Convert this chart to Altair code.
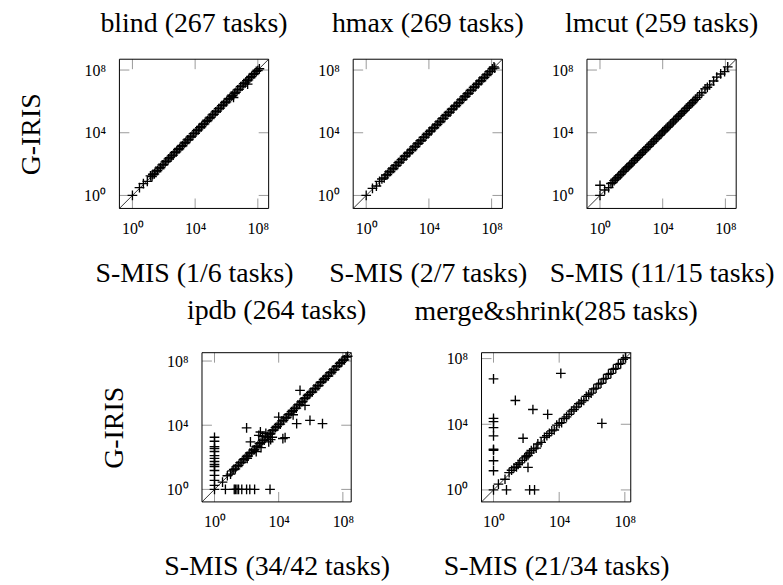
import altair as alt
import pandas as pd

FONT = "Liberation Serif"
BOX = 150
TICK_LEN = 10
TICK_COLOR = "#9a9a9a"
PLUS = "M-1,0L1,0M0,-1L0,1"

# ---- data: log10 of S-MIS (x) and G-IRIS (y) values ----
blind_x = [0, 0.45, 0.7, 0.95, 1.15, 1.25, 1.3, 1.4, 1.5, 1.6, 1.7, 1.8, 1.9, 2.0, 2.1, 2.2,
           2.3, 2.4, 2.5, 2.6, 2.7, 2.8, 2.9, 3.0, 3.1, 3.2, 3.3, 3.4, 3.5, 3.6, 3.7, 3.8, 3.9,
           4.0, 4.1, 4.2, 4.3, 4.4, 4.5, 4.6, 4.7, 4.8, 4.9, 5.0, 5.1, 5.2, 5.3, 5.4, 5.5, 5.6,
           5.7, 5.8, 5.9, 6.0, 6.1, 6.2, 6.3, 6.4, 6.5, 6.6, 6.7, 6.8, 6.9, 7.0, 7.1, 7.2, 7.3,
           7.4, 7.5, 7.6, 7.7, 7.8, 7.9, 8.0, 8.1, 6.45, 7.35]
blind_y = [0, 0.5, 0.75, 0.9, 1.25, 1.2, 1.35, 1.37, 1.55, 1.58, 1.74, 1.77, 1.95, 1.97, 2.14,
           2.18, 2.33, 2.41, 2.52, 2.57, 2.74, 2.78, 2.93, 2.98, 3.13, 3.17, 3.34, 3.38, 3.55,
           3.57, 3.73, 3.78, 3.94, 3.97, 4.14, 4.18, 4.33, 4.38, 4.54, 4.57, 4.73, 4.78, 4.93,
           4.98, 5.14, 5.17, 5.33, 5.38, 5.54, 5.57, 5.73, 5.78, 5.93, 5.97, 6.14, 6.17, 6.33,
           6.38, 6.52, 6.58, 6.73, 6.77, 6.94, 6.97, 7.13, 7.18, 7.33, 7.37, 7.52, 7.58, 7.73,
           7.77, 7.92, 7.97, 8.08, 6.25, 7.1]

hmax_x = [0, 0.4, 0.65, 0.85, 1.0, 1.15, 1.25, 1.35, 1.45, 1.55, 1.65, 1.75, 1.85, 1.95, 2.05,
          2.15, 2.25, 2.35, 2.45, 2.55, 2.65, 2.75, 2.85, 2.95, 3.05, 3.15, 3.25, 3.35, 3.45,
          3.55, 3.65, 3.75, 3.85, 3.95, 4.05, 4.15, 4.25, 4.35, 4.45, 4.55, 4.65, 4.75, 4.85,
          4.95, 5.05, 5.15, 5.25, 5.35, 5.45, 5.55, 5.65, 5.75, 5.85, 5.95, 6.05, 6.15, 6.25,
          6.35, 6.45, 6.55, 6.65, 6.75, 6.85, 6.95, 7.05, 7.15, 7.25, 7.35, 7.45, 7.55, 7.65,
          7.75, 7.85, 7.95, 8.05, 8.15, 8.2]
hmax_y = [0, 0.45, 0.6, 0.9, 1.05, 1.12, 1.3, 1.33, 1.5, 1.53, 1.69, 1.72, 1.9, 1.92, 2.09,
          2.13, 2.29, 2.32, 2.5, 2.52, 2.69, 2.73, 2.89, 2.92, 3.1, 3.12, 3.29, 3.33, 3.49,
          3.52, 3.7, 3.72, 3.89, 3.93, 4.09, 4.12, 4.3, 4.32, 4.49, 4.53, 4.69, 4.72, 4.9,
          4.92, 5.09, 5.13, 5.29, 5.32, 5.5, 5.52, 5.69, 5.73, 5.89, 5.92, 6.1, 6.12, 6.29,
          6.33, 6.49, 6.52, 6.7, 6.72, 6.89, 6.93, 7.09, 7.12, 7.3, 7.32, 7.49, 7.53, 7.69,
          7.72, 7.9, 7.92, 8.08, 8.2, 8.12]

lmcut_x = [0, 0.0, 0.3, 0.55, 0.7, 0.8, 0.9, 1.0, 1.1, 1.2, 1.3, 1.4, 1.5, 1.6, 1.7, 1.8, 1.9,
           2.0, 2.1, 2.2, 2.3, 2.4, 2.5, 2.6, 2.7, 2.8, 2.9, 3.0, 3.1, 3.2, 3.3, 3.4, 3.5, 3.6,
           3.7, 3.8, 3.9, 4.0, 4.1, 4.2, 4.3, 4.4, 4.5, 4.6, 4.7, 4.8, 4.9, 5.0, 5.1, 5.2, 5.3,
           5.4, 5.5, 5.6, 5.7, 5.8, 5.9, 6.0, 6.1, 6.2, 6.35, 6.5, 6.7, 6.85, 7.0, 7.25, 7.45,
           7.7, 7.95, 8.15]
lmcut_y = [0, 0.65, 0.35, 0.5, 0.76, 0.82, 0.95, 1.04, 1.13, 1.25, 1.33, 1.44, 1.54, 1.63,
           1.75, 1.83, 1.94, 2.05, 2.13, 2.24, 2.34, 2.43, 2.55, 2.63, 2.74, 2.84, 2.93, 3.05,
           3.13, 3.24, 3.34, 3.43, 3.55, 3.63, 3.74, 3.84, 3.93, 4.05, 4.13, 4.24, 4.34, 4.43,
           4.55, 4.63, 4.74, 4.84, 4.93, 5.05, 5.13, 5.24, 5.34, 5.43, 5.55, 5.63, 5.74, 5.84,
           5.93, 6.05, 6.13, 6.25, 6.4, 6.55, 6.8, 6.9, 7.05, 7.3, 7.55, 7.75, 7.9, 8.2]

ipdb_x = [0, 0.5, 0.8, 1.0, 1.1, 1.2, 1.3, 1.4, 1.5, 1.6, 1.7, 1.8, 1.9, 2.0, 2.1, 2.2, 2.3,
          2.4, 2.5, 2.6, 2.7, 2.8, 2.9, 3.0, 3.1, 3.2, 3.3, 3.4, 3.5, 3.6, 3.7, 3.8, 3.9, 4.0,
          4.1, 4.2, 4.3, 4.4, 4.5, 4.6, 4.7, 4.8, 4.9, 5.0, 5.1, 5.2, 5.3, 5.4, 5.5, 5.6, 5.7,
          5.8, 5.9, 6.0, 6.1, 6.2, 6.3, 6.4, 6.5, 6.6, 6.7, 6.8, 6.9, 7.0, 7.1, 7.2, 7.3, 7.4,
          7.5, 7.6, 7.7, 7.8, 7.9, 8.0, 8.1, 8.2, 8.3,
          2.0, 2.86, 2.76, 2.24, 3.38, 4.0, 4.26, 4.4, 5.12, 5.95, 6.73, 5.33, 5.64, 2.6, 2.9,
          3.6, 3.2, 4.9, 2.04, 3.0, 3.5,
          0, 0, 0, 0, 0, 0, 0, 0, 0, 0, 0, 0, 0, 0,
          0.68, 1.23, 1.3, 1.4, 1.5, 1.7, 2.0, 2.2, 2.5, 3.46]
ipdb_y = [0, 0.45, 0.85, 0.95, 1.15, 1.25, 1.28, 1.45, 1.5, 1.66, 1.68, 1.85, 1.92, 2.05,
          2.08, 2.27, 2.3, 2.45, 2.47, 2.66, 2.7, 2.85, 2.92, 3.05, 3.07, 3.27, 3.3, 3.45,
          3.47, 3.66, 3.7, 3.85, 3.92, 4.05, 4.07, 4.27, 4.3, 4.45, 4.47, 4.66, 4.7, 4.85,
          4.92, 5.05, 5.07, 5.27, 5.3, 5.45, 5.47, 5.66, 5.7, 5.85, 5.92, 6.05, 6.07, 6.27,
          6.3, 6.45, 6.47, 6.66, 6.7, 6.85, 6.92, 7.05, 7.07, 7.27, 7.3, 7.45, 7.47, 7.66,
          7.7, 7.85, 7.92, 8.05, 8.07, 8.25, 8.3,
          3.83, 3.58, 3.37, 2.96, 2.96, 4.5, 3.17, 3.23, 4.1, 4.3, 4.1, 6.17, 5.24, 2.35, 2.6,
          3.25, 3.5, 4.65, 1.93, 3.3, 3.1,
          3.25, 3.0, 2.67, 2.55, 2.36, 2.11, 1.93, 1.74, 1.55, 1.43, 1.18, 0.87, 0.56, 0.25,
          0, 0, 0, 0, 0, 0, 0, 0, 0, 0]

ms_x = [0, 0.3, 0.7, 0.95, 1.1, 1.25, 1.4, 1.5, 1.6, 1.75, 1.9, 2.0, 2.1, 2.2, 2.3, 2.45, 2.6,
        2.7, 2.9, 3.1, 3.25, 3.4, 3.55, 3.7, 3.85, 4.0, 4.15, 4.3, 4.45, 4.6, 4.75, 4.9, 5.05,
        5.2, 5.35, 5.5, 5.65, 5.8, 5.95, 6.1, 6.25, 6.4, 6.55, 6.7, 6.85, 7.0, 7.15, 7.3, 7.45,
        7.6, 7.75, 7.9, 8.05,
        0, 0, 0, 0, 0, 0, 0, 0, 0,
        1.33, 2.4, 1.8, 0.79, 2.2, 2.5, 2.1, 6.6, 4.1, 3.3]
ms_y = [0, 0.35, 0.65, 1.05, 1.2, 1.35, 1.4, 1.55, 1.65, 1.8, 1.95, 2.05, 2.1, 2.25, 2.4, 2.5,
        2.55, 2.8, 2.9, 3.2, 3.3, 3.45, 3.6, 3.65, 3.95, 4.05, 4.1, 4.35, 4.45, 4.6, 4.8, 4.9,
        5.05, 5.25, 5.35, 5.45, 5.7, 5.8, 5.9, 6.15, 6.2, 6.45, 6.5, 6.75, 6.8, 7.05, 7.1,
        7.35, 7.4, 7.65, 7.7, 7.95, 8.05,
        6.77, 4.36, 4.16, 3.8, 3.29, 2.48, 2.42, 1.78, 1.17,
        5.45, 4.9, 3.15, 0, 0, 0, 1.37, 4.05, 7.1, 4.6]

tick_values = [1, 1e4, 1e8]
LABEL = "datum.value < 10 ? '10⁰' : (datum.value < 1e6 ? '10⁴' : '10⁸')"


def panel(xs, ys, lo_exp, hi_exp, title, xtitle, ytitle, title_offset):
    lo, hi = 10 ** lo_exp, 10 ** hi_exp
    sx = alt.Scale(type="log", domain=[lo, hi], nice=False)
    sy = alt.Scale(type="log", domain=[lo, hi], nice=False)
    common = dict(values=tick_values, labelExpr=LABEL, domain=False, ticks=False, tickSize=0,
                  grid=False, labelFont=FONT, labelFontSize=16, labelColor="black",
                  titleFont=FONT, titleFontSize=28, titleFontWeight="normal", titleColor="black")
    xaxis = alt.Axis(labelPadding=12, titleX=BOX / 2, titleY=65, titleBaseline="middle",
                     titleAlign="center", **common)
    if ytitle:
        yaxis = alt.Axis(labelPadding=14, titleX=-88, titleY=BOX / 2, titleAngle=270,
                         titleBaseline="middle", titleAlign="center", **common)
    else:
        yaxis = alt.Axis(labelPadding=14, **common)
    X = alt.X("x:Q", scale=sx, axis=xaxis, title=xtitle)
    Y = alt.Y("y:Q", scale=sy, axis=yaxis, title=ytitle if ytitle else None)

    pts = (alt.Chart(pd.DataFrame({"lx": xs, "ly": ys}))
           .transform_calculate(x="pow(10, datum.lx)", y="pow(10, datum.ly)")
           .mark_point(shape=PLUS, size=95, strokeWidth=1.35, color="black", filled=False,
                       opacity=1)
           .encode(x=X, y=Y))
    diag = (alt.Chart(pd.DataFrame({"x": [lo, hi], "y": [lo, hi]}))
            .mark_line(color="black", strokeWidth=0.8).encode(x=X, y=Y))
    tx = pd.DataFrame({"x": tick_values})
    ty = pd.DataFrame({"y": tick_values})
    tb = alt.Chart(tx).mark_rule(color=TICK_COLOR, strokeWidth=1).encode(
        x=X, y=alt.value(BOX), y2=alt.value(BOX - TICK_LEN))
    tt = alt.Chart(tx).mark_rule(color=TICK_COLOR, strokeWidth=1).encode(
        x=X, y=alt.value(0), y2=alt.value(TICK_LEN))
    tl = alt.Chart(ty).mark_rule(color=TICK_COLOR, strokeWidth=1).encode(
        y=Y, x=alt.value(0), x2=alt.value(TICK_LEN))
    tr = alt.Chart(ty).mark_rule(color=TICK_COLOR, strokeWidth=1).encode(
        y=Y, x=alt.value(BOX), x2=alt.value(BOX - TICK_LEN))
    box = alt.Chart(pd.DataFrame({"a": [0]})).mark_rect(
        fillOpacity=0, stroke="black", strokeWidth=1).encode(
        x=alt.value(0), x2=alt.value(BOX), y=alt.value(0), y2=alt.value(BOX))
    return alt.layer(tb, tt, tl, tr, diag, pts, box).properties(
        width=BOX, height=BOX,
        title=alt.TitleParams(text=title, font=FONT, fontSize=28, fontWeight="normal",
                              color="black", anchor="middle", baseline="alphabetic",
                              offset=title_offset))


p1 = panel(blind_x, blind_y, -0.83, 8.69, "blind (267 tasks)", "S-MIS (1/6 tasks)", "G-IRIS", -2)
p2 = panel(hmax_x, hmax_y, -0.83, 8.69, "hmax (269 tasks)", "S-MIS (2/7 tasks)", None, -2)
p3 = panel(lmcut_x, lmcut_y, -0.83, 8.69, "lmcut (259 tasks)", "S-MIS (11/15 tasks)", None, -2)
p4 = panel(ipdb_x, ipdb_y, -0.78, 8.52, "ipdb (264 tasks)", "S-MIS (34/42 tasks)", "G-IRIS", 2)
p5 = panel(ms_x, ms_y, -0.73, 8.36, "merge&shrink(285 tasks)", "S-MIS (21/34 tasks)", None, 2)

spacer = (alt.Chart(pd.DataFrame({"a": [0]})).mark_point(opacity=0)
          .encode(x=alt.value(0), y=alt.value(0)).properties(width=83, height=BOX))

top = alt.hconcat(p1, p2, p3, spacing=85, bounds="flush")
bottom = alt.hconcat(spacer, alt.hconcat(p4, p5, spacing=131, bounds="flush"),
                     spacing=0, bounds="flush")
chart = (alt.vconcat(top, bottom, spacing=295, bounds="flush")
         .properties(padding={"left": 10, "top": 0, "right": 0, "bottom": 0},
                     background="white")
         .configure_view(stroke=None))

chart.save("out.html", embed_options={"renderer": "svg", "actions": False})
